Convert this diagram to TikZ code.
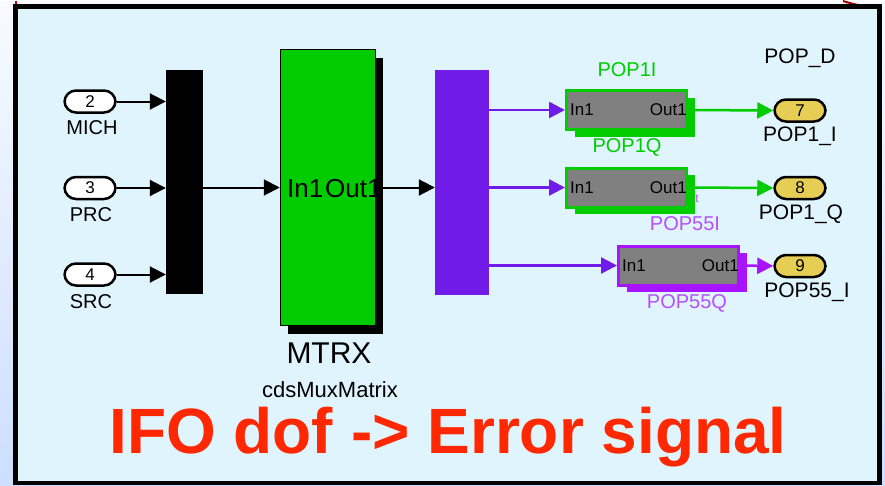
\documentclass[tikz,border=0pt]{standalone}
\usepackage{fontspec}
\setmainfont{Liberation Sans}
\usetikzlibrary{arrows.meta,positioning,shadows}

\definecolor{panelblue}{RGB}{224,244,253}
\definecolor{bgtop}{RGB}{248,250,255}
\definecolor{bgbottom}{RGB}{205,222,255}
\definecolor{simgreen}{RGB}{0,204,0}
\definecolor{buspurple}{RGB}{113,27,232}
\definecolor{boxpurple}{RGB}{168,20,255}
\definecolor{lblpurple}{RGB}{180,80,255}
\definecolor{portyellow}{RGB}{230,206,85}
\definecolor{blockgray}{RGB}{128,128,128}
\definecolor{titlered}{RGB}{255,40,0}

\begin{document}
\begin{tikzpicture}[
  x=1pt,y=-1pt,
  >={Triangle[length=16pt,width=16pt]},
  port/.style={draw,line width=2.5pt,rounded corners=11.5pt,minimum width=51pt,minimum height=22pt,inner sep=0pt,font=\fontsize{17}{17}\selectfont},
  inport/.style={port,fill=white},
  outport/.style={port,fill=portyellow},
  lbl/.style={inner sep=0pt,font=\fontsize{20}{20}\selectfont},
  outlbl/.style={inner sep=0pt,font=\fontsize{21}{21}\selectfont},
  bar/.style={inner sep=0pt,draw=none},
  subsys/.style={draw=#1,fill=blockgray,line width=3pt,minimum width=120pt,minimum height=39pt,inner sep=0pt,
    drop shadow={shadow xshift=8pt,shadow yshift=-7pt,fill=#1,opacity=1}},
  porttxt/.style={inner sep=0pt,font=\fontsize{17}{17}\selectfont},
  sig/.style={->,line width=2pt},
  bussig/.style={->,line width=2.5pt,draw=buspurple,>={Triangle[length=16pt,width=16pt,fill=buspurple]}},
]

% background and panel
\fill[top color=bgtop,bottom color=bgbottom] (0,0) rectangle (885,484);
\draw[red!75!black,line width=2pt] (16,0) -- (16,5);
\draw[red!65!black,line width=2pt] (843,0) to[bend right=8] (879,6);
\draw[line width=4.5pt,fill=panelblue] (15.5,5.5) rectangle (879.5,482);
\useasboundingbox (0,0) rectangle (885,484);

% inports
\node[inport] (in2) at (90,100.5) {2};
\node[inport] (in3) at (90,187) {3};
\node[inport] (in4) at (90,273.5) {4};
\node[lbl] (michlbl) at (92,127) {MICH};
\node[lbl] (prclbl) at (91,214) {PRC};
\node[lbl] (srclbl) at (91,301) {SRC};

% mux, matrix, demux
\node[bar,fill=black,minimum width=37pt,minimum height=224pt] (mux) at (184.5,181) {};
\node[draw,line width=1.5pt,fill=simgreen,minimum width=95pt,minimum height=276pt,inner sep=0pt,
  drop shadow={shadow xshift=7pt,shadow yshift=-8pt,fill=black,opacity=1}] (matrix) at (328,186.5) {};
\node[inner sep=0pt,anchor=west,font=\fontsize{26}{26}\selectfont] (matin) at (287,188) {In1};
\node[inner sep=0pt,anchor=west,font=\fontsize{26}{26}\selectfont] (matout) at (325,188) {Out1};
\node[inner sep=0pt,font=\fontsize{30}{30}\selectfont] (mtrxlbl) at (329,352) {MTRX};
\node[inner sep=0pt,font=\fontsize{22}{22}\selectfont] (typelbl) at (330,389) {cdsMuxMatrix};
\node[bar,fill=buspurple,minimum width=54pt,minimum height=225pt] (demux) at (462,181.5) {};

% subsystems
\node[subsys=simgreen] (pop1i) at (626.5,109) {};
\node[subsys=simgreen] (pop1q) at (626.5,186.5) {};
\node[subsys=boxpurple] (pop55q) at (678.5,264.5) {};
\foreach \blk in {pop1i,pop1q,pop55q}{
  \node[porttxt,anchor=west] (\blk in) at ([xshift=5pt]\blk.west) {In1};
  \node[porttxt,anchor=east] (\blk out) at ([xshift=-1pt]\blk.east) {Out1};
}
\node[lbl,text=simgreen] (pop1ilbl) at (627,69) {POP1I};
\node[lbl,text=simgreen] (pop1qlbl) at (627,146) {POP1Q};
\node[inner sep=0pt,text=lblpurple,font=\fontsize{12}{12}\selectfont] (strayt) at (697,198) {t};
\node[lbl,text=lblpurple] (pop55ilbl) at (685,223) {POP55I};
\node[lbl,text=lblpurple] (pop55qlbl) at (687,302) {POP55Q};

% outports
\node[outlbl] (popdlbl) at (800,57) {POP\_D};
\node[outport] (out7) at (800,109.5) {7};
\node[outport] (out8) at (800,187) {8};
\node[outport] (out9) at (800,265) {9};
\node[outlbl] (out7lbl) at (800,135) {POP1\_I};
\node[outlbl] (out8lbl) at (801,213) {POP1\_Q};
\node[outlbl] (out9lbl) at (807,291) {POP55\_I};

% title
\node[inner sep=0pt,text=titlered,font=\fontsize{64}{64}\selectfont\bfseries] (title) at (448,436) {IFO dof -> Error signal};

% connectors
\foreach \src in {in2,in3,in4}
  \draw[sig] (\src) -- (\src -| mux.west);
\draw[sig] (mux.east |- matrix) -- (matrix.west);
\draw[sig] (matrix.east) -- (matrix.east -| demux.west);
\foreach \dst in {pop1i,pop1q,pop55q}
  \draw[bussig] (demux.east |- \dst) -- (\dst.west);
\draw[sig,draw=simgreen,line width=2.5pt,>={Triangle[length=16pt,width=16pt,fill=simgreen]}] (pop1i.east) -- (out7.west);
\draw[sig,draw=simgreen,line width=2.5pt,>={Triangle[length=16pt,width=16pt,fill=simgreen]}] (pop1q.east) -- (out8.west);
\draw[sig,draw=boxpurple,line width=2.5pt,>={Triangle[length=16pt,width=16pt,fill=boxpurple]}] (pop55q.east) -- (out9.west);

\end{tikzpicture}
\end{document}
